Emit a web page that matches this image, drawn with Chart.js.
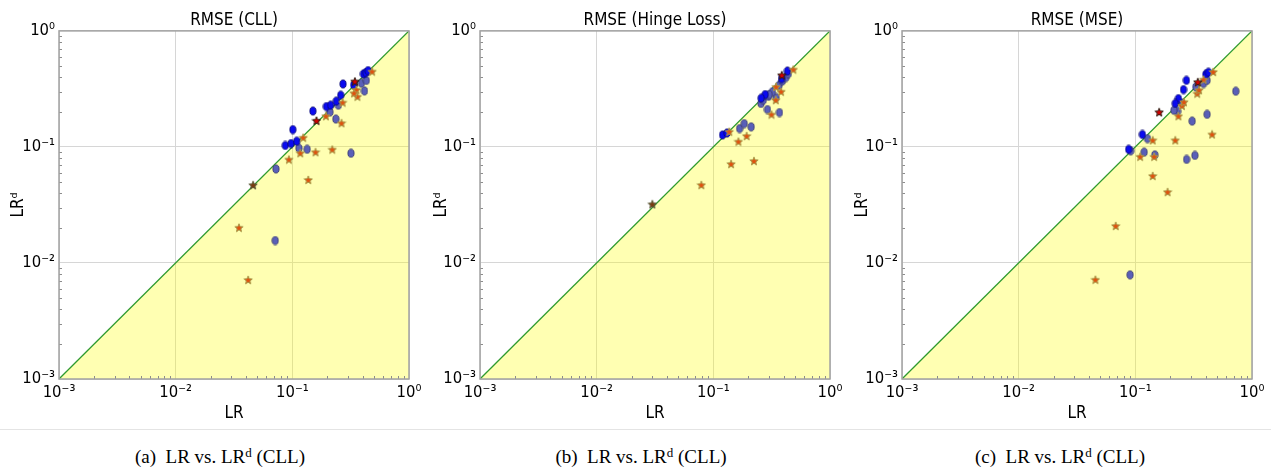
<!DOCTYPE html>
<html>
<head>
<meta charset="utf-8">
<script src="https://cdn.jsdelivr.net/npm/chart.js@4.4.0/dist/chart.umd.min.js"></script>
<style>
  body { margin: 0; background: #fff; width: 1271px; height: 470px; position: relative; overflow: hidden; }
  .panel { position: absolute; top: 0; height: 430px; }
  .rule { position: absolute; left: 0; width: 1271px; top: 429px; border-top: 1px solid #e4e4e4; }
  .cap { position: absolute; top: 446px; width: 320px; text-align: center;
         font-family: "Liberation Serif", "Times New Roman", serif; font-size: 19px; line-height: 22px; }
  .cap sup { font-size: 13px; line-height: 0; vertical-align: 6px; }
</style>
</head>
<body>
<div class="panel" style="left:0;width:440px"><canvas id="c1"></canvas></div>
<div class="panel" style="left:420px;width:440px"><canvas id="c2"></canvas></div>
<div class="panel" style="left:842px;width:429px"><canvas id="c3"></canvas></div>
<div class="rule"></div>
<div class="cap" style="left:60px">(a)&nbsp; LR vs. LR<sup>d</sup> (CLL)</div>
<div class="cap" style="left:481px">(b)&nbsp; LR vs. LR<sup>d</sup> (CLL)</div>
<div class="cap" style="left:900px">(c)&nbsp; LR vs. LR<sup>d</sup> (CLL)</div>
<script>
// axis ticks (decades) and their labels
const tickValues = [0.001, 0.01, 0.1, 1];
const tickLabels = ['10⁻³', '10⁻²', '10⁻¹', '10⁰'];
const diagonal = [[0.001, 0.001], [1, 1]];

// panel (a) RMSE (CLL): [LR, LRd]
const cllBlue = [[0.101,0.141],[0.087,0.103],[0.0975,0.107],[0.109,0.112],[0.150,0.204],[0.196,0.223],[0.213,0.229],
  [0.238,0.248],[0.260,0.279],[0.272,0.349],[0.336,0.342],[0.407,0.426],[0.426,0.437],[0.446,0.455]];
const cllSlate = [[0.210,0.200],[0.248,0.229],[0.236,0.174],[0.114,0.0975],[0.134,0.0955],[0.318,0.0883],[0.0724,0.0646],
  [0.391,0.354],[0.415,0.304],[0.431,0.374],[0.0713,0.0156]];
const cllStars = [[0.124,0.120],[0.194,0.184],[0.270,0.241],[0.264,0.160],[0.117,0.0883],[0.0935,0.0778],[0.158,0.0900],
  [0.220,0.0948],[0.137,0.0519],[0.354,0.310],[0.361,0.271],[0.338,0.290],[0.483,0.446],[0.0349,0.0201],[0.0418,0.00713]];
const cllRedStars = [[0.161,0.168],[0.344,0.366]];
const cllDarkStars = [[0.0461,0.0468]];

// panel (b) RMSE (Hinge Loss)
const hingeBlue = [[0.120,0.127],[0.131,0.132],[0.278,0.283],[0.257,0.263],[0.384,0.388],[0.432,0.451]];
const hingeSlate = [[0.168,0.144],[0.184,0.159],[0.211,0.149],[0.291,0.210],[0.369,0.198],[0.345,0.267],[0.321,0.299],
  [0.256,0.237],[0.268,0.253],[0.297,0.273],[0.366,0.340],[0.391,0.370],[0.418,0.396],[0.440,0.428],[0.301,0.283]];
const hingeStars = [[0.137,0.135],[0.164,0.111],[0.193,0.124],[0.142,0.0711],[0.223,0.0755],[0.0789,0.0469],[0.315,0.190],
  [0.381,0.299],[0.345,0.329],[0.343,0.253],[0.485,0.464]];
const hingeRedStars = [[0.386,0.414]];
const hingeDarkStars = [[0.030,0.032]];

// panel (c) RMSE (MSE)
const mseBlue = [[0.274,0.375],[0.259,0.312],[0.234,0.261],[0.220,0.237],[0.115,0.128],[0.0876,0.0953],[0.402,0.423],[0.423,0.440]];
const mseSlate = [[0.726,0.302],[0.412,0.191],[0.307,0.167],[0.230,0.203],[0.214,0.207],[0.127,0.118],[0.0912,0.0925],
  [0.119,0.0902],[0.147,0.0855],[0.275,0.0781],[0.324,0.0845],[0.384,0.352],[0.412,0.375],[0.330,0.329],[0.251,0.239],[0.0902,0.00790]];
const mseStars = [[0.141,0.114],[0.220,0.114],[0.455,0.128],[0.234,0.184],[0.110,0.0822],[0.145,0.0822],[0.141,0.0561],
  [0.189,0.0408],[0.339,0.288],[0.352,0.308],[0.251,0.226],[0.261,0.243],[0.465,0.442],[0.384,0.380],[0.0679,0.0208],[0.0455,0.00716]];
const mseRedStars = [[0.160,0.199],[0.343,0.361]];
const mseDarkStars = [];

const FONT = '"DejaVu Sans Condensed", "DejaVu Sans", sans-serif';

function dotImage(fill, edge) {
  const c = document.createElement('canvas');
  c.width = 8; c.height = 10;
  const g = c.getContext('2d');
  g.beginPath();
  g.ellipse(4, 5, 3.1, 4.1, 0, 0, Math.PI * 2);
  g.fillStyle = fill; g.fill();
  g.lineWidth = 0.8; g.strokeStyle = edge; g.stroke();
  return c;
}

function starImage(fill, edge) {
  const c = document.createElement('canvas');
  c.width = 10; c.height = 10;
  const g = c.getContext('2d');
  g.beginPath();
  for (let i = 0; i < 10; i++) {
    const r = i % 2 === 0 ? 4.4 : 1.9;
    const a = -Math.PI / 2 + i * Math.PI / 5;
    const px = 5 + r * Math.cos(a), py = 5.3 + r * Math.sin(a);
    if (i === 0) g.moveTo(px, py); else g.lineTo(px, py);
  }
  g.closePath();
  g.fillStyle = fill; g.fill();
  g.lineWidth = 1; g.strokeStyle = edge; g.stroke();
  return c;
}

const blueDot = dotImage('#0a0af0', '#06066e');
const slateDot = dotImage('#5a5fb8', '#33356a');
const orangeStar = starImage('#e0520e', '#a89a4a');
const redStar = starImage('#d40000', '#2a1a10');
const darkStar = starImage('#7a3a10', '#5a5a3a');

const framePlugin = {
  id: 'frame',
  afterDatasetsDraw(chart) {
    const { ctx, chartArea: a, scales } = chart;
    ctx.save();
    ctx.strokeStyle = '#8c8c8c';
    ctx.lineWidth = 1;
    for (let d = -3; d < 0; d++) {
      for (let k = 2; k <= 9; k++) {
        const v = k * Math.pow(10, d);
        const px = Math.round(scales.x.getPixelForValue(v)) + 0.5;
        const py = Math.round(scales.y.getPixelForValue(v)) + 0.5;
        ctx.beginPath();
        ctx.moveTo(px, a.bottom); ctx.lineTo(px, a.bottom - 3);
        ctx.moveTo(a.left, py); ctx.lineTo(a.left + 3, py);
        ctx.stroke();
      }
    }
    ctx.strokeStyle = '#a2a2a2';
    ctx.lineWidth = 1.5;
    ctx.strokeRect(a.left, a.top, a.right - a.left, a.bottom - a.top);
    ctx.restore();
  }
};

function toPoints(pairs) {
  return pairs.map(p => ({ x: p[0], y: p[1] }));
}

function logAxis(titleText, fitFn, titlePad, titleSize) {
  return {
    type: 'logarithmic',
    min: 0.001,
    max: 1,
    afterBuildTicks: s => { s.ticks = tickValues.map(v => ({ value: v })); },
    afterFit: fitFn,
    ticks: {
      color: '#000',
      padding: 4,
      autoSkip: false,
      maxRotation: 0,
      font: { family: FONT, size: 16.5 },
      callback: v => tickLabels[tickValues.indexOf(v)] || ''
    },
    grid: { color: '#d6d6d6', lineWidth: 1, drawTicks: false },
    border: { display: false },
    title: {
      display: true,
      text: titleText,
      color: '#000',
      font: { family: FONT, size: titleSize },
      padding: titlePad
    }
  };
}

function makeChart(id, title, blue, slate, stars, redStars, darkStars, yTitleX, padRight, yWidth) {
  new Chart(document.getElementById(id), {
    type: 'scatter',
    data: {
      datasets: [
        { data: toPoints(redStars), pointStyle: redStar, order: 1 },
        { data: toPoints(darkStars), pointStyle: darkStar, order: 1 },
        { data: toPoints(stars), pointStyle: orangeStar, order: 2 },
        { data: toPoints(blue), pointStyle: blueDot, order: 3 },
        { data: toPoints(slate), pointStyle: slateDot, order: 4 },
        {
          type: 'line',
          data: toPoints(diagonal),
          borderColor: '#2f9a2f',
          borderWidth: 1.3,
          backgroundColor: 'rgba(255, 255, 0, 0.3)',
          fill: 'start',
          pointRadius: 0,
          order: 10
        }
      ]
    },
    options: {
      responsive: true,
      maintainAspectRatio: false,
      animation: false,
      layout: { padding: { left: 0, right: padRight, top: 0, bottom: 0 } },
      plugins: {
        legend: { display: false },
        tooltip: { enabled: false },
        title: {
          display: true,
          fullSize: false,
          text: title,
          color: '#000',
          font: { family: FONT, size: 17, weight: 'normal' },
          padding: { top: 10, bottom: 0.5 }
        }
      },
      scales: {
        x: logAxis('LR', s => { s.height = 51; }, { top: 0, bottom: 6 }, 17),
        y: logAxis('LRᵈ', s => { s.width = yWidth; }, { top: yTitleX - 10, bottom: 0 }, 17)
      }
    },
    plugins: [framePlugin]
  });
}

makeChart('c1', 'RMSE (CLL)', cllBlue, cllSlate, cllStars, cllRedStars, cllDarkStars, 18, 31, 59);
makeChart('c2', 'RMSE (Hinge Loss)', hingeBlue, hingeSlate, hingeStars, hingeRedStars, hingeDarkStars, 21, 30, 60);
makeChart('c3', 'RMSE (MSE)', mseBlue, mseSlate, mseStars, mseRedStars, mseDarkStars, 20, 19, 60);
</script>
</body>
</html>
